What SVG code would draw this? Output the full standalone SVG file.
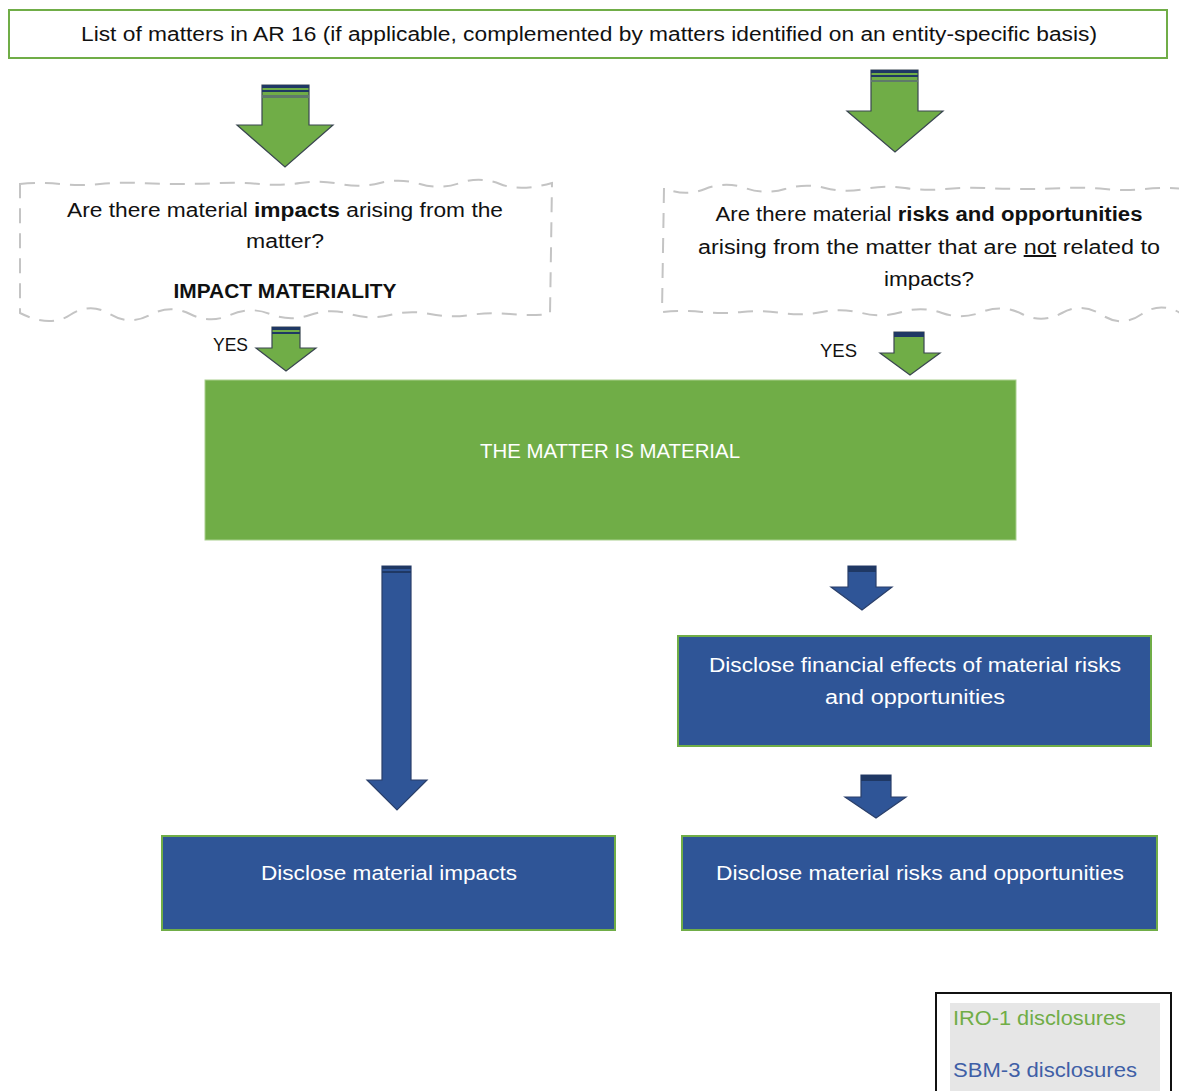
<svg xmlns="http://www.w3.org/2000/svg" width="1179" height="1091" viewBox="0 0 1179 1091">
<style>
.t{font-family:"Liberation Sans",Arial,sans-serif;fill:#111;}
.w{font-family:"Liberation Sans",Arial,sans-serif;fill:#ffffff;}
.ga{fill:#70AD47;stroke:#3a4650;stroke-width:1.2;stroke-linejoin:miter;}
.ba{fill:#2F5597;stroke:#2a3f6a;stroke-width:1.2;}
.bbox{fill:#2F5597;stroke:#70AD47;stroke-width:2;}
.dash{fill:none;stroke:#c4c4c4;stroke-width:2;stroke-dasharray:15 10;}
.navy{fill:#1F3864;}
</style>
<rect width="1179" height="1091" fill="#ffffff"/>

<g id="top-list">
<rect x="9" y="10" width="1158" height="48" fill="#ffffff" stroke="#70AD47" stroke-width="2"/>
<text class="t" x="589" y="41" font-size="20" text-anchor="middle" textLength="1016" lengthAdjust="spacingAndGlyphs">List of matters in AR 16 (if applicable, complemented by matters identified on an entity-specific basis)</text>
</g>

<g id="connectors">
<g id="arrow-g1">
<polygon class="ga" points="262,85 309,85 309,125 333,125 285,167 237,125 262,125"/>
<rect class="navy" x="262" y="85" width="47" height="3"/>
<rect class="navy" x="262" y="90" width="47" height="2"/>
<rect x="262" y="95" width="47" height="3" fill="#5f7a6a"/>
</g>
<g id="arrow-g2">
<polygon class="ga" points="871,70 918,70 918,111 943,111 895,152 847,111 871,111"/>
<rect class="navy" x="871" y="70" width="47" height="3"/>
<rect class="navy" x="871" y="75" width="47" height="2"/>
<rect x="871" y="80" width="47" height="2" fill="#5f7a6a"/>
</g>
<g id="arrow-yes1">
<polygon class="ga" points="272,327 300,327 300,348 316,348 286,371 256,348 272,348"/>
<rect class="navy" x="272" y="327" width="28" height="3"/>
<rect class="navy" x="272" y="332" width="28" height="2"/>
</g>
<g id="arrow-yes2">
<polygon class="ga" points="894,332 924,332 924,353 940,353 910,375 880,353 894,353"/>
<rect class="navy" x="894" y="332" width="30" height="5"/>
</g>
<g id="arrow-b-long">
<polygon class="ba" points="382,566 411,566 411,780 427,780 397,810 367,780 382,780"/>
<rect class="navy" x="382" y="566" width="29" height="3"/>
<rect class="navy" x="382" y="571" width="29" height="2"/>
</g>
<g id="arrow-b1">
<polygon class="ba" points="848,566 876,566 876,587 892,587 862,610 831,587 848,587"/>
<rect class="navy" x="848" y="566" width="28" height="6"/>
</g>
<g id="arrow-b2">
<polygon class="ba" points="861,775 891,775 891,797 906,797 876,818 845,797 861,797"/>
<rect class="navy" x="861" y="775" width="30" height="6"/>
</g>
</g>

<g id="impact-question">
<path class="dash" d="M20,184 Q40,182 60,184 T100,184 T140,183 T180,184 T220,183 T260,184 T300,183 T340,184 T380,183 T420,184 T460,183 T500,184 T552,183 L551,250 L550,314 Q530,316 510,314 T470,315 T430,314 T390,315 T350,314 T310,315 T270,314 T230,315 T190,314 T150,315 T110,314 T70,315 T20,313 L20,250 Z"/>
<text class="t" x="285" y="217" font-size="20" text-anchor="middle" textLength="436" lengthAdjust="spacingAndGlyphs">Are there material <tspan font-weight="bold">impacts</tspan> arising from the</text>
<text class="t" x="285" y="248" font-size="20" text-anchor="middle" textLength="78" lengthAdjust="spacingAndGlyphs">matter?</text>
<text class="t" x="285" y="298" font-size="20" font-weight="bold" text-anchor="middle" textLength="223" lengthAdjust="spacingAndGlyphs">IMPACT MATERIALITY</text>
</g>

<g id="risk-question">
<path class="dash" d="M1185,189 Q1165,187 1145,189 T1105,189 T1065,188 T1025,189 T985,188 T945,189 T905,188 T865,189 T825,188 T785,189 T745,188 T705,189 T664,188 L663,250 L662,312 Q682,310 702,312 T742,312 T782,313 T822,312 T862,313 T902,312 T942,313 T982,312 T1022,314 T1062,313 T1102,315 T1142,314 T1185,316"/>
<text class="t" x="929" y="221" font-size="20" text-anchor="middle" textLength="427" lengthAdjust="spacingAndGlyphs">Are there material <tspan font-weight="bold">risks and opportunities</tspan></text>
<text class="t" x="929" y="254" font-size="20" text-anchor="middle" textLength="462" lengthAdjust="spacingAndGlyphs">arising from the matter that are <tspan text-decoration="underline">not</tspan> related to</text>
<text class="t" x="929" y="286" font-size="20" text-anchor="middle" textLength="90" lengthAdjust="spacingAndGlyphs">impacts?</text>
</g>

<g id="yes-left">
<text class="t" x="213" y="351" font-size="18" textLength="35" lengthAdjust="spacingAndGlyphs">YES</text>
</g>
<g id="yes-right">
<text class="t" x="820" y="357" font-size="18" textLength="37" lengthAdjust="spacingAndGlyphs">YES</text>
</g>

<g id="material">
<rect x="205" y="380" width="811" height="160" fill="#70AD47" stroke="#a9d08e" stroke-width="1"/>
<text class="w" x="610" y="458" font-size="20" text-anchor="middle" textLength="260" lengthAdjust="spacingAndGlyphs">THE MATTER IS MATERIAL</text>
</g>

<g id="financial-effects">
<rect class="bbox" x="678" y="636" width="473" height="110"/>
<text class="w" x="915" y="672" font-size="20" text-anchor="middle" textLength="412" lengthAdjust="spacingAndGlyphs">Disclose financial effects of material risks</text>
<text class="w" x="915" y="704" font-size="20" text-anchor="middle" textLength="180" lengthAdjust="spacingAndGlyphs">and opportunities</text>
</g>

<g id="material-impacts">
<rect class="bbox" x="162" y="836" width="453" height="94"/>
<text class="w" x="389" y="880" font-size="20" text-anchor="middle" textLength="256" lengthAdjust="spacingAndGlyphs">Disclose material impacts</text>
</g>

<g id="material-risks">
<rect class="bbox" x="682" y="836" width="475" height="94"/>
<text class="w" x="920" y="880" font-size="20" text-anchor="middle" textLength="408" lengthAdjust="spacingAndGlyphs">Disclose material risks and opportunities</text>
</g>

<g id="legend">
<rect x="936" y="993" width="235" height="110" fill="#ffffff" stroke="#111111" stroke-width="2"/>
<rect x="950" y="1003" width="210" height="90" fill="#e6e6e6"/>
<text x="953" y="1025" font-family="Liberation Sans, Arial, sans-serif" font-size="20" fill="#70AD47" textLength="173" lengthAdjust="spacingAndGlyphs">IRO-1 disclosures</text>
<text x="953" y="1077" font-family="Liberation Sans, Arial, sans-serif" font-size="20" fill="#3f5fa6" textLength="184" lengthAdjust="spacingAndGlyphs">SBM-3 disclosures</text>
</g>
</svg>
